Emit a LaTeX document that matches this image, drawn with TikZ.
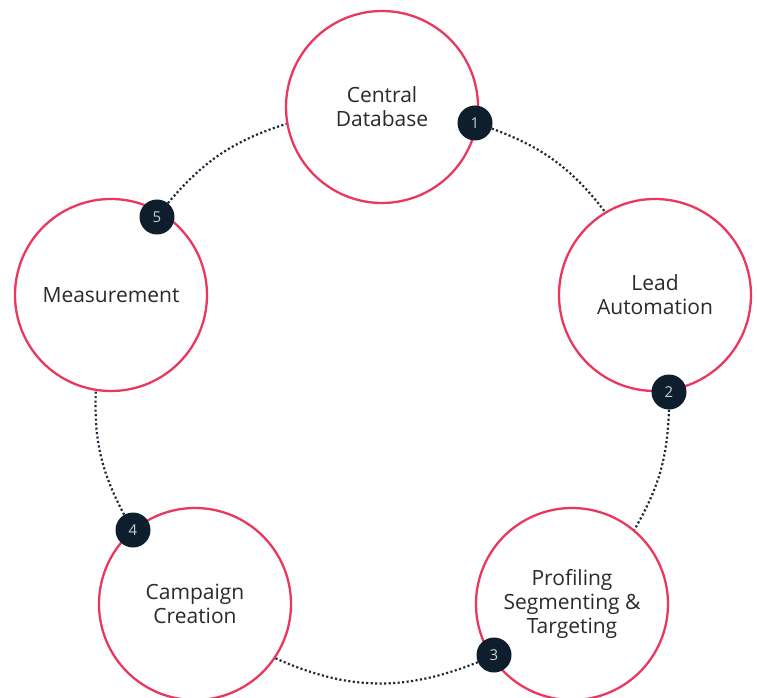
\documentclass[tikz,border=0pt]{standalone}
\usepackage{fontspec}
\setmainfont{Open Sans}
\definecolor{ring}{HTML}{E8385E}
\definecolor{navy}{HTML}{0E1E2C}
\definecolor{dotc}{HTML}{1B2A38}
\definecolor{txt}{HTML}{2A2A2A}
\definecolor{badgetxt}{HTML}{C8CDD2}
\begin{document}
\begin{tikzpicture}[x=1pt,y=1pt,
  stage/.style={circle, draw=ring, line width=2.3pt, fill=white, minimum size=192pt, inner sep=0pt, align=center, text=txt, font=\fontsize{21}{24}\selectfont},
  badge/.style={circle, fill=navy, minimum size=35pt, inner sep=0pt, text=badgetxt, font=\fontsize{15}{15}\selectfont},
  link/.style={draw=dotc, line width=2.2pt, dash pattern=on 2.1pt off 2.4pt}]
\useasboundingbox (0,0) rectangle (757,697);
\node[stage] (cd) at (382,590) {Central\\Database};
\node[stage] (lead) at (655,402) {Lead\\Automation};
\node[stage] (prof) at (572,93) {Profiling\\Segmenting \&\\Targeting};
\node[stage] (camp) at (195,93) {Campaign\\Creation};
\node[stage] (meas) at (111,402) {Measurement};
\node[badge] (b1) at (475,574) {1};
\node[badge] (b2) at (669,305) {2};
\node[badge] (b3) at (494,42) {3};
\node[badge] (b4) at (133,167) {4};
\node[badge] (b5) at (157,480) {5};
\draw[link] (b1) to[bend left=16] (lead.121);
\draw[link] (b2) to[bend left=14] (prof.50);
\draw[link] (b3) to[bend left=23] (camp.-34);
\draw[link] (b4) to[bend left=15] (meas.261);
\draw[link] (b5) to[bend left=16] (cd.190);
\end{tikzpicture}
\end{document}
